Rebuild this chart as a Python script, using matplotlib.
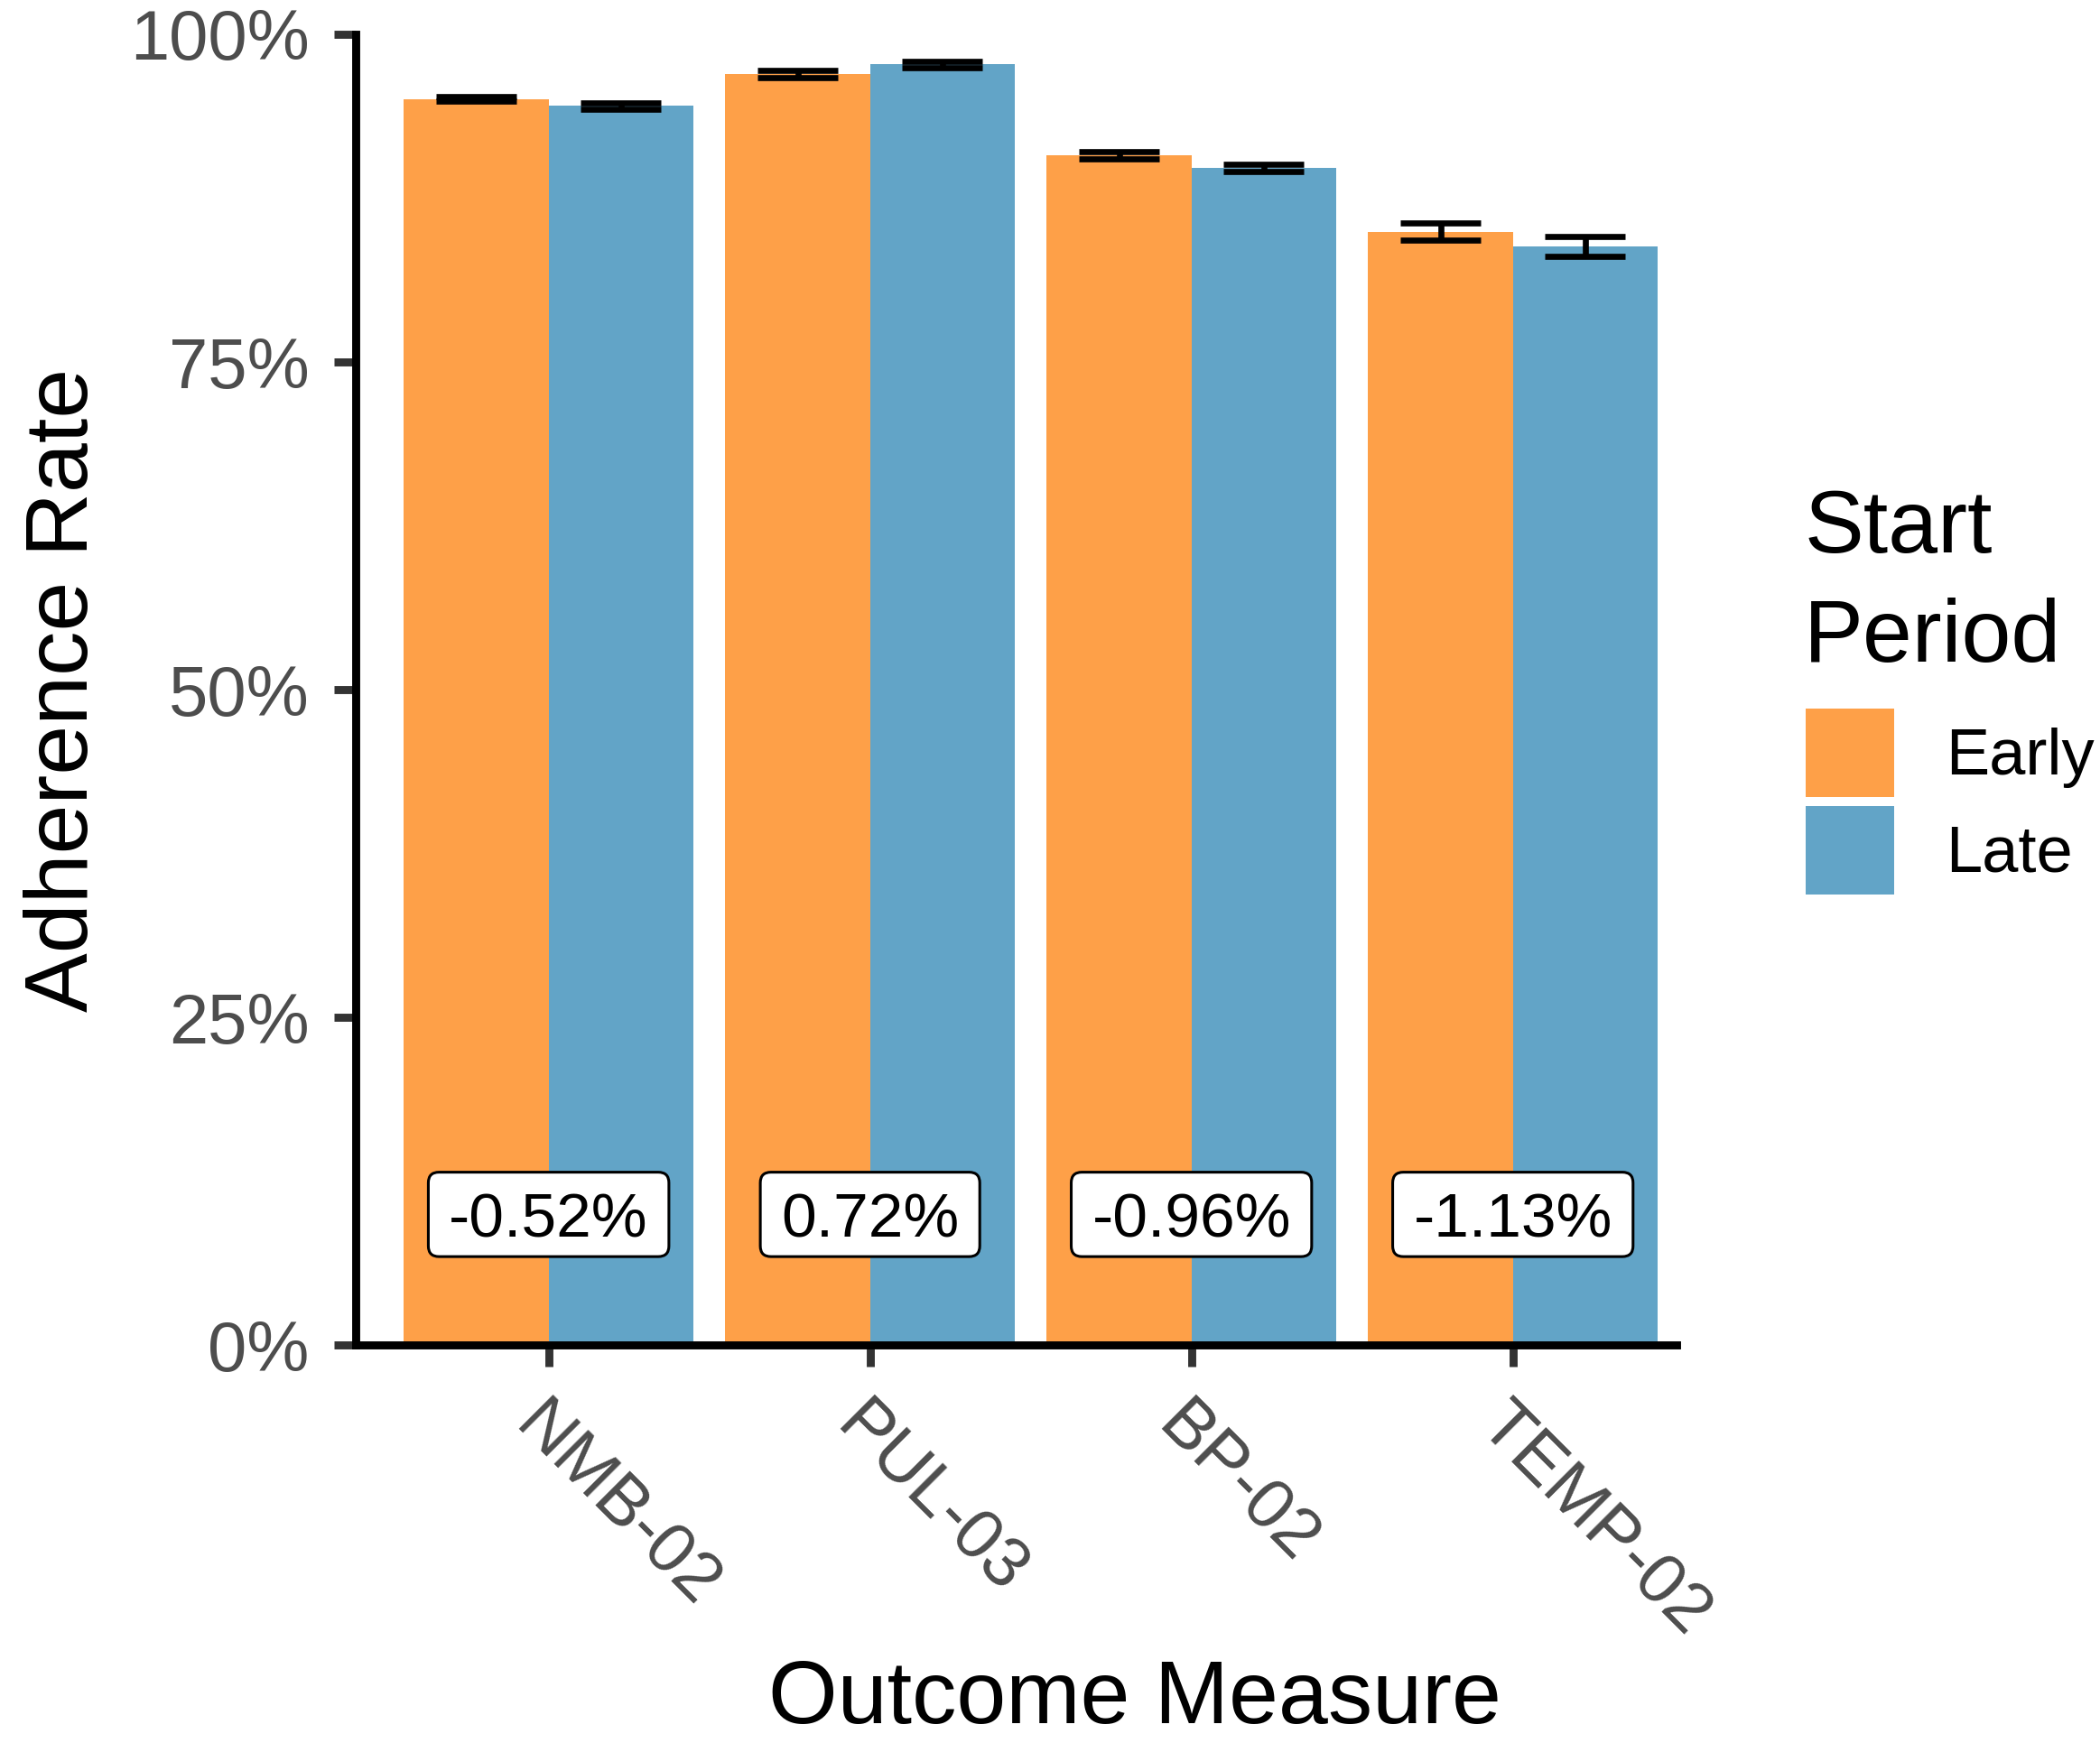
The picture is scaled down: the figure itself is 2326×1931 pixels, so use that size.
import matplotlib
matplotlib.use("Agg")
import matplotlib.pyplot as plt
import numpy as np
from matplotlib.patches import Patch, BoxStyle

plt.rcParams['font.family'] = ['Liberation Sans', 'DejaVu Sans']

# ---- data ----
measures = ['NMB-02', 'PUL-03', 'BP-02', 'TEMP-02']
periods = ['Early', 'Late']
early_rate = [95.04, 96.97, 90.73, 84.93]
late_rate = [94.52, 97.69, 89.77, 83.80]
early_err = [0.19, 0.28, 0.29, 0.68]
late_err = [0.23, 0.23, 0.29, 0.73]
diff_labels = ['-0.52%', '0.72%', '-0.96%', '-1.13%']
label_level = 10
yticks = [0, 25, 50, 75, 100]
ytick_labels = ['0%', '25%', '50%', '75%', '100%']

c_early = '#FEA048'
c_late = '#62A4C7'

W, H, DPI = 2326, 1931, 200
fig = plt.figure(figsize=((W + 0.3) / DPI, (H + 0.3) / DPI), dpi=DPI)
ax = fig.add_axes([394 / W, 1 - 1490.5 / H, (1857 - 394) / W, (1490.5 - 37.9) / H])

x = np.arange(len(measures))
bw = 0.45
capw = 0.125
for offs, vals, errs, col, lab in [(-bw / 2, early_rate, early_err, c_early, periods[0]),
                                   (bw / 2, late_rate, late_err, c_late, periods[1])]:
    vals = np.array(vals)
    errs = np.array(errs)
    xp = x + offs
    ax.bar(xp, vals, width=bw, color=col, linewidth=0, zorder=2, label=lab)
    ax.vlines(xp, vals - errs, vals + errs, color='black', lw=2.4, zorder=3)
    ax.hlines(vals - errs, xp - capw, xp + capw, color='black', lw=2.4, zorder=3, capstyle='butt')
    ax.hlines(vals + errs, xp - capw, xp + capw, color='black', lw=2.4, zorder=3, capstyle='butt')


def label_box(x0, y0, width, height, mutation_size):
    m = mutation_size
    hp = 0.33 * m
    top = 0.31 * m
    bot = 0.115 * m
    return BoxStyle.Round(pad=0, rounding_size=0.17)(x0 - hp, y0 - bot, width + 2 * hp,
                                                      height + top + bot, m)


for xi, lab in zip(x, diff_labels):
    ax.annotate(lab, xy=(xi, label_level), xytext=(0, -9), textcoords='offset points',
                ha='center', va='baseline', fontsize=25, color='black', zorder=5,
                bbox=dict(boxstyle=label_box, fc='white', ec='black', lw=1.1))

ax.set_xlim(-0.6, 3.51)
ax.set_ylim(0, 100)
for s in ['top', 'right']:
    ax.spines[s].set_visible(False)
for s in ['left', 'bottom']:
    ax.spines[s].set_linewidth(3.2)
    ax.spines[s].set_color('black')
    ax.spines[s].set_capstyle('projecting')

ax.set_xticks(x, measures)
ax.set_yticks(yticks, ytick_labels)
ax.tick_params(axis='both', length=8.5, width=3.2, color='#333333', labelcolor='#4D4D4D',
               labelsize=28, pad=10)
for lbl in ax.get_xticklabels():
    lbl.set_rotation(-45)
    lbl.set_ha('left')
    lbl.set_va('top')
    lbl.set_rotation_mode('anchor')

fig.text(97 / W, 1 - 764 / H, 'Adherence Rate', rotation=90, rotation_mode='anchor',
         ha='center', va='baseline', fontsize=35.5, color='black')
fig.text(1257 / W, 1 - 1909 / H, 'Outcome Measure', ha='center', va='baseline',
         fontsize=35.5, color='black')

fs_leg = 26
px = fs_leg * DPI / 72
hh = (98 / px - 0.245) / 0.65
handles = [Patch(facecolor=c_early, edgecolor='none'), Patch(facecolor=c_late, edgecolor='none')]
fig.legend(handles, periods, loc='upper left', bbox_to_anchor=(2000 / W, 1 - 785 / H),
           frameon=False, fontsize=fs_leg, handlelength=98 / px, handleheight=hh,
           handletextpad=57 / px, labelspacing=10 / px, borderpad=0, borderaxespad=0)
fig.text(1998 / W, 1 - 541 / H, 'Start\nPeriod', ha='left', va='top', fontsize=35.5,
         linespacing=1.42, color='black')

fig.savefig('out.png', dpi=DPI)
